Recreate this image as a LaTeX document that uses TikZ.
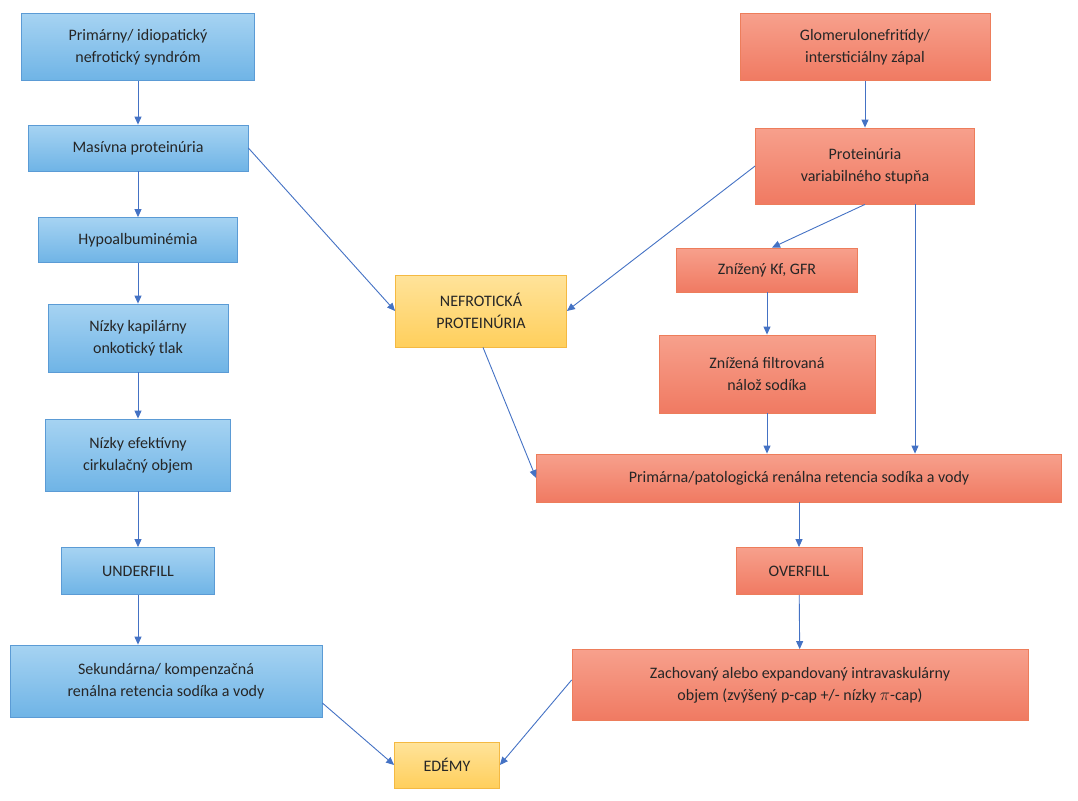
\documentclass[tikz,border=0pt]{standalone}
\usepackage{fontspec}
\setmainfont{Carlito}
\usetikzlibrary{arrows.meta}
\definecolor{bT}{HTML}{A6D3F2}\definecolor{bB}{HTML}{6FB4E6}\definecolor{bD}{HTML}{5B9BD5}
\definecolor{rT}{HTML}{F7A08C}\definecolor{rB}{HTML}{F07A62}\definecolor{rD}{HTML}{ED7D5B}
\definecolor{yT}{HTML}{FFE39A}\definecolor{yB}{HTML}{FFCF5C}\definecolor{yD}{HTML}{F4B942}
\definecolor{ar}{HTML}{4472C4}
\begin{document}
\begin{tikzpicture}[x=1pt,y=-1pt,
 box/.style={draw,line width=0.8pt,align=center,inner sep=2pt,font=\fontsize{16}{22}\selectfont,text=black!85},
 blue/.style={box,draw=bD,top color=bT,bottom color=bB},
 red/.style={box,draw=rD,top color=rT,bottom color=rB},
 yel/.style={box,draw=yD,top color=yT,bottom color=yB},
 arr/.style={draw=ar,line width=0.9pt,-{Triangle[length=8pt,width=7pt]}}]
\useasboundingbox (0,0) rectangle (1078,800);
\node[blue,minimum width=233,minimum height=67] (n1) at (138,47) {Primárny/ idiopatický\\nefrotický syndróm};
\node[blue,minimum width=220,minimum height=46] (n2) at (138,148) {Masívna proteinúria};
\node[blue,minimum width=199,minimum height=45] (n3) at (138,240) {Hypoalbuminémia};
\node[blue,minimum width=180,minimum height=68] (n4) at (138,338) {Nízky kapilárny\\onkotický tlak};
\node[blue,minimum width=185,minimum height=72] (n5) at (138,455) {Nízky efektívny\\cirkulačný objem};
\node[blue,minimum width=153,minimum height=47] (n6) at (138,571) {UNDERFILL};
\node[blue,minimum width=312,minimum height=72] (n7) at (166,681) {Sekundárna/ kompenzačná\\renálna retencia sodíka a vody};
\node[yel,minimum width=105,minimum height=46] (n8) at (447,765) {EDÉMY};
\node[yel,minimum width=171,minimum height=72] (n9) at (481,311) {NEFROTICKÁ\\PROTEINÚRIA};
\node[red,minimum width=250,minimum height=67] (m1) at (865,47) {Glomerulonefritídy/\\intersticiálny zápal};
\node[red,minimum width=219,minimum height=76] (m2) at (865,166) {Proteinúria\\variabilného stupňa};
\node[red,minimum width=181,minimum height=44] (m3) at (767,270) {Znížený Kf, GFR};
\node[red,minimum width=216,minimum height=78] (m4) at (767,374) {Znížená filtrovaná\\nálož sodíka};
\node[red,minimum width=525,minimum height=48] (m5) at (799,478) {Primárna/patologická renálna retencia sodíka a vody};
\node[red,minimum width=126,minimum height=47] (m6) at (799,571) {OVERFILL};
\node[red,minimum width=456,minimum height=71] (m7) at (800,685) {Zachovaný alebo expandovaný intravaskulárny\\objem (zvýšený p-cap +/- nízky $\pi$-cap)};
\draw[arr] (n1) -- (n2);
\draw[arr] (n2) -- (n3);
\draw[arr] (n3) -- (n4);
\draw[arr] (n4) -- (n5);
\draw[arr] (n5) -- (n6);
\draw[arr] (n6.south) -- (n6.south|-n7.north);
\draw[arr] (n2.east) -- (n9.west);
\draw[arr] (m2.west) -- (n9.east);
\draw[arr] (m1) -- (m2);
\draw[arr] ([xshift=0pt]m2.south) -- ([xshift=5pt]m3.north);
\draw[arr] (m2.south-|915,0) -- (m5.north-|915,0);
\draw[arr] (m3) -- (m4);
\draw[arr] (m4) -- (m4.south|-m5.north);
\draw[arr] ([xshift=2pt]n9.south) -- (m5.west);
\draw[arr] (m5) -- (m6);
\draw[arr] (m6) -- (m7);
\draw[arr] (n7.east) ++(0,22) coordinate (a) (a) -- (n8.west);
\draw[arr] ([yshift=5pt]m7.west) -- (n8.east);
\end{tikzpicture}
\end{document}
